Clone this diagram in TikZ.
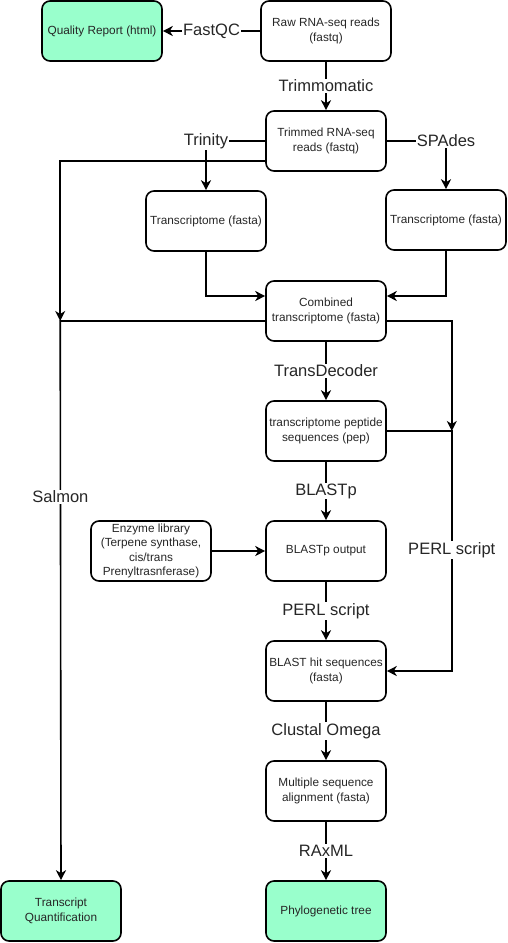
\documentclass[tikz,border=0pt]{standalone}
\usepackage{fontspec}
\setmainfont{Liberation Sans}
\usetikzlibrary{arrows.meta, positioning}
\definecolor{resultgreen}{HTML}{99FFCC}
\tikzstyle{process} = [rectangle, rounded corners=8pt, minimum width=120pt, minimum height=60pt, inner sep=2pt, text centered, align=center, draw=black, line width=1.6pt, text=black!85, font=\fontsize{11.8}{14.5}\selectfont]
\tikzstyle{result} = [process, fill=resultgreen]
\tikzstyle{tool} = [fill=white, inner sep=1pt, text=black!85, font=\fontsize{16.5}{18}\selectfont]
\tikzstyle{arrow} = [line width=1.6pt, -{Stealth[length=10pt, width=10pt, inset=3pt]}]

\begin{document}
\begin{tikzpicture}[x=1pt, y=1pt, node distance=120pt]
        \useasboundingbox (0,0) rectangle (508,-943);

        % Nodes for the main column
        \node (raw) [process, minimum width=130pt] at (326,-31) {Raw RNA-seq reads\\(fastq)};
        \node (trimmed) [process, below of=raw, yshift=10pt] {Trimmed RNA-seq\\reads (fastq)};
        \node (combined) [process, below of=trimmed, yshift=-50pt] {Combined\\transcriptome (fasta)};
        \node (peptide) [process, below of=combined] {transcriptome peptide\\sequences (pep)};
        \node (blastOut) [process, below of=peptide] {BLASTp output};
        \node (blastHits) [process, below of=blastOut] {BLAST hit sequences\\(fasta)};
        \node (msa) [process, below of=blastHits] {Multiple sequence\\alignment (fasta)};
        \node (tree) [result, below of=msa] {Phylogenetic tree};

        % Nodes on the sides
        \node (quality) [result] at (102,-31) {Quality Report (html)};
        \node (trinityOut) [process] at (206,-221) {Transcriptome (fasta)};
        \node (spadesOut) [process] at (446,-220) {Transcriptome (fasta)};
        \node (enzymes) [process, left of=blastOut, xshift=-55pt] {Enzyme library\\(Terpene synthase,\\cis/trans\\Prenyltrasnferase)};
        \node (quant) [result] at (61,-911) {Transcript\\Quantification};

        % Arrows for QC and trimming
        \draw [arrow] (raw) -- node[tool] {FastQC} (quality);
        \draw [arrow] (raw) -- node[tool] {Trimmomatic} (trimmed);

        % Arrows for the two assemblies
        \draw [arrow] (trimmed.west) -| node[tool] {Trinity} (trinityOut.north);
        \draw [arrow] (trimmed.east) -| node[tool] {SPAdes} (spadesOut.north);
        \draw [arrow] (trinityOut.south) |- ([yshift=15pt]combined.west);
        \draw [arrow] (spadesOut.south) |- ([yshift=15pt]combined.east);

        % Arrows for quantification
        \draw [arrow] ([yshift=-10pt]combined.west) -- ++(-205pt,0) coordinate (salmonBend) -- node[tool, pos=0.314] {Salmon} (quant.north);
        \draw [arrow] ([yshift=-20pt]trimmed.west) -| (salmonBend);

        % Arrows down the main column
        \draw [arrow] (combined) -- node[tool] {TransDecoder} (peptide);
        \draw [arrow] (peptide) -- node[tool] {BLASTp} (blastOut);
        \draw [arrow] (enzymes) -- (blastOut);
        \draw [arrow] (blastOut) -- node[tool] {PERL script} (blastHits);
        \draw [arrow] (blastHits) -- node[tool] {Clustal Omega} (msa);
        \draw [arrow] (msa) -- node[tool] {RAxML} (tree);

        % Arrows for the PERL script on the right
        \draw [arrow] (peptide.east) -- ++(65pt,0) coordinate (perlBend) |- node[tool, pos=0.248] {PERL script} (blastHits.east);
        \draw [arrow] ([yshift=-10pt]combined.east) -| (perlBend);

    \end{tikzpicture}
\end{document}
